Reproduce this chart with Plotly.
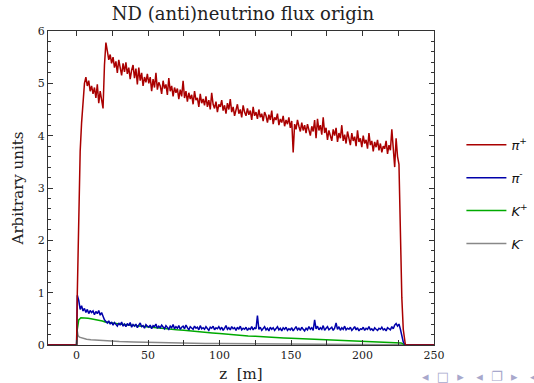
import plotly.graph_objects as go

# red: pi+ (1 m bins, first bin 0-1 m)
pip = [
    1.0, 2.4, 3.7, 4.25, 4.6, 5.0, 5.12, 4.95, 5.05, 4.85,
    4.95, 4.8, 4.92, 4.72, 4.98, 4.62, 4.85, 4.68, 4.52, 5.35,
    5.78, 5.62, 5.45, 5.55, 5.38, 5.5, 5.3, 5.42, 5.2, 5.45,
    5.32, 5.15, 5.38, 5.22, 5.4, 5.18, 5.3, 5.08, 5.25, 5.35,
    5.1, 5.28, 4.98, 5.3, 5.05, 5.2, 4.95, 5.12, 5.02, 5.18,
    5.0, 5.12, 4.85, 5.08, 4.92, 5.2, 4.88, 5.02, 4.95, 4.8,
    5.05, 4.9, 4.98, 4.78, 5.1, 4.85, 4.95, 4.75, 4.92, 4.82,
    4.9, 4.7, 4.88, 4.75, 5.05, 4.72, 4.85, 4.65, 4.82, 4.7,
    4.78, 4.6, 4.85, 4.68, 4.72, 4.55, 4.8, 4.62, 4.7, 4.58,
    4.75, 4.55, 4.68, 4.5, 4.82, 4.6, 4.52, 4.65, 4.45, 4.6,
    4.55, 4.68, 4.48, 4.58, 4.42, 4.62, 4.5, 4.7, 4.45, 4.55,
    4.38, 4.52, 4.6, 4.42, 4.5, 4.35, 4.58, 4.45, 4.38, 4.52,
    4.4, 4.48, 4.3, 4.55, 4.38, 4.45, 4.32, 4.5, 4.35, 4.42,
    4.28, 4.45, 4.38, 4.25, 4.4, 4.3, 4.48, 4.22, 4.35, 4.3,
    4.42, 4.2, 4.32, 4.25, 4.38, 4.18, 4.3, 4.22, 4.35, 4.15,
    4.28, 3.68, 4.22, 4.12, 4.3, 4.18, 4.08, 4.25, 4.1, 4.2,
    4.05, 4.22, 4.12, 4.0, 4.18, 4.08, 4.3, 3.95, 4.32, 4.1,
    4.2, 4.02, 4.35, 4.05, 4.15, 3.92, 4.1, 4.02, 3.9, 4.12,
    4.0, 4.15, 3.88, 4.05, 3.95, 4.2, 3.9, 4.02, 3.85, 4.08,
    3.95, 3.82, 4.05, 3.9, 3.98, 3.8, 4.1, 3.88, 3.95, 3.78,
    4.0, 3.85, 3.92, 3.75, 4.05, 3.82, 3.9, 3.7, 3.88, 3.78,
    3.92, 3.72, 3.85, 3.68, 3.8, 3.75, 3.9, 3.65, 3.82, 3.72,
    4.12, 3.78, 3.4, 3.95, 3.6, 3.45, 2.1, 0.9, 0.3, 0.08,
]

# blue: pi- (1 m bins, first bin 0-1 m)
pim = [
    0.95, 0.85, 0.68, 0.75, 0.65, 0.7, 0.62, 0.68, 0.6, 0.66,
    0.62, 0.65, 0.58, 0.64, 0.6, 0.66, 0.57, 0.62, 0.55, 0.48,
    0.45, 0.42, 0.46, 0.4, 0.44, 0.38, 0.43, 0.4, 0.36, 0.42,
    0.38, 0.44, 0.36, 0.4, 0.35, 0.41, 0.37, 0.43, 0.34, 0.39,
    0.36, 0.4, 0.33, 0.38, 0.42, 0.35, 0.37, 0.32, 0.39, 0.36,
    0.34, 0.38, 0.31, 0.37, 0.35, 0.4, 0.32, 0.36, 0.33, 0.38,
    0.35, 0.31, 0.37, 0.34, 0.3, 0.36, 0.33, 0.39, 0.31, 0.35,
    0.32, 0.37, 0.3, 0.34, 0.36, 0.31, 0.38, 0.33, 0.29, 0.35,
    0.33, 0.3, 0.36, 0.32, 0.34, 0.29, 0.37, 0.31, 0.33, 0.3,
    0.35, 0.31, 0.28, 0.34, 0.32, 0.36, 0.29, 0.33, 0.31, 0.35,
    0.3, 0.34, 0.28, 0.32, 0.37, 0.3, 0.33, 0.29, 0.35, 0.31,
    0.33, 0.28, 0.34, 0.3, 0.36, 0.29, 0.32, 0.3, 0.34, 0.28,
    0.32, 0.3, 0.35, 0.29, 0.33, 0.31, 0.56, 0.3, 0.34, 0.28,
    0.31, 0.35, 0.29, 0.32, 0.27, 0.34, 0.3, 0.33, 0.28, 0.31,
    0.35, 0.29, 0.32, 0.27, 0.33, 0.3, 0.34, 0.28, 0.31, 0.29,
    0.33, 0.27, 0.31, 0.35, 0.29, 0.32, 0.28, 0.34, 0.3, 0.27,
    0.32, 0.29, 0.35, 0.3, 0.33, 0.28, 0.48, 0.31, 0.36, 0.29,
    0.33, 0.3, 0.37, 0.28, 0.32, 0.35, 0.29, 0.31, 0.34, 0.28,
    0.32, 0.42, 0.3, 0.35, 0.28, 0.33, 0.3, 0.36, 0.29, 0.32,
    0.3, 0.34, 0.28, 0.31, 0.35, 0.29, 0.33, 0.27, 0.31, 0.3,
    0.34, 0.28, 0.32, 0.3, 0.35, 0.29, 0.31, 0.27, 0.33, 0.3,
    0.28, 0.32, 0.3, 0.34, 0.29, 0.31, 0.27, 0.33, 0.3, 0.29,
    0.35, 0.31, 0.38, 0.41, 0.36, 0.4, 0.3, 0.18, 0.06, 0.01,
]

# green: K+
kp_z = [-20, 0, 0.5, 1.5, 3, 5, 8, 10, 13, 15, 18, 20, 22, 25, 30, 35, 40, 45, 50,
        55, 60, 65, 70, 75, 80, 85, 90, 95, 100, 105, 110, 115, 120, 125, 130, 135,
        140, 145, 150, 155, 160, 165, 170, 175, 180, 185, 190, 195, 200, 205, 210,
        215, 220, 225, 227, 229, 230, 250]
kp = [0, 0, 0.3, 0.48, 0.52, 0.52, 0.51, 0.5, 0.49, 0.48, 0.46, 0.44, 0.43, 0.42,
      0.4, 0.385, 0.37, 0.355, 0.345, 0.33, 0.315, 0.3, 0.29, 0.28, 0.265, 0.25,
      0.24, 0.23, 0.22, 0.205, 0.195, 0.18, 0.17, 0.165, 0.155, 0.15, 0.14, 0.135,
      0.13, 0.125, 0.12, 0.115, 0.11, 0.105, 0.1, 0.095, 0.09, 0.085, 0.08, 0.075,
      0.07, 0.065, 0.06, 0.055, 0.04, 0.01, 0, 0]

# grey: K-
km_z = [-20, 0, 0.3, 1, 2, 4, 7, 10, 15, 20, 30, 40, 50, 60, 75, 90, 100, 125, 150,
        175, 200, 225, 229, 230, 250]
km = [0, 0, 0.3, 0.18, 0.15, 0.13, 0.11, 0.1, 0.09, 0.08, 0.065, 0.055, 0.048, 0.042,
      0.035, 0.03, 0.027, 0.022, 0.018, 0.015, 0.012, 0.01, 0.005, 0, 0]

bin_centres = [b + 0.5 for b in range(len(pip))]
z_pi = [-20, 0] + bin_centres + [230, 250]
pip_full = [0, 0] + pip + [0, 0]
pim_full = [0, 0] + pim + [0, 0]

names = ["<i>π</i><sup>+</sup>", "<i>π</i><sup>-</sup>",
         "<i>K</i><sup>+</sup>", "<i>K</i><sup>-</sup>"]
colors = ["#aa0000", "#0000aa", "#00aa00", "#888888"]

fig = go.Figure()
series = [(z_pi, pip_full), (z_pi, pim_full), (kp_z, kp), (km_z, km)]
for i in [3, 2, 1, 0]:
    zz, vv = series[i]
    fig.add_trace(go.Scatter(x=zz, y=vv, mode="lines", name=names[i],
                             legendgroup=str(i), legendrank=i,
                             line=dict(color=colors[i], width=1.5)))

axis_common = dict(showline=True, linecolor="#333333", linewidth=1, mirror="ticks",
                   ticks="inside", ticklen=5, tickcolor="#333333", showgrid=False,
                   zeroline=False, automargin=False,
                   tickfont=dict(family="DejaVu Serif", size=11, color="#222222"))

fig.update_layout(
    width=534, height=383,
    margin=dict(l=48, r=100, t=31, b=38, autoexpand=False),
    paper_bgcolor="white", plot_bgcolor="white",
    title=dict(text="ND (anti)neutrino flux origin", x=243 / 534, xanchor="center",
               y=1 - 14 / 383, yanchor="middle",
               font=dict(family="DejaVu Serif", size=18, color="#222222")),
    xaxis=dict(range=[-20, 250], tickvals=[0, 50, 100, 150, 200, 250],
               minor=dict(tickvals=[25, 75, 125, 175, 225], ticks="inside", ticklen=5,
                          tickcolor="#333333"),
               title=dict(text="z  [m]", standoff=12,
                          font=dict(family="DejaVu Serif", size=15, color="#222222")),
               **axis_common),
    yaxis=dict(range=[0, 6], dtick=1,
               minor=dict(dtick=0.2, ticks="inside", ticklen=3, tickcolor="#333333"),
               title=dict(text="Arbitrary units", standoff=10,
                          font=dict(family="DejaVu Serif", size=15, color="#222222")),
               **axis_common),
    legend=dict(x=1.071, xanchor="left", y=0.48, yanchor="middle",
                font=dict(family="DejaVu Sans", size=13, color="#111111"),
                tracegroupgap=13, itemwidth=40, bgcolor="rgba(0,0,0,0)"),
    showlegend=True,
)

fig.add_annotation(text="◂  □  ▸   ◂  ❐  ▸   ◂", x=1.0, y=-(376 - 345) / 314,
                   xref="paper", yref="paper", xanchor="left", yanchor="middle",
                   xshift=-14, showarrow=False,
                   font=dict(family="DejaVu Sans", size=13, color="#a8a8cc"))

fig.write_html("out.html")
